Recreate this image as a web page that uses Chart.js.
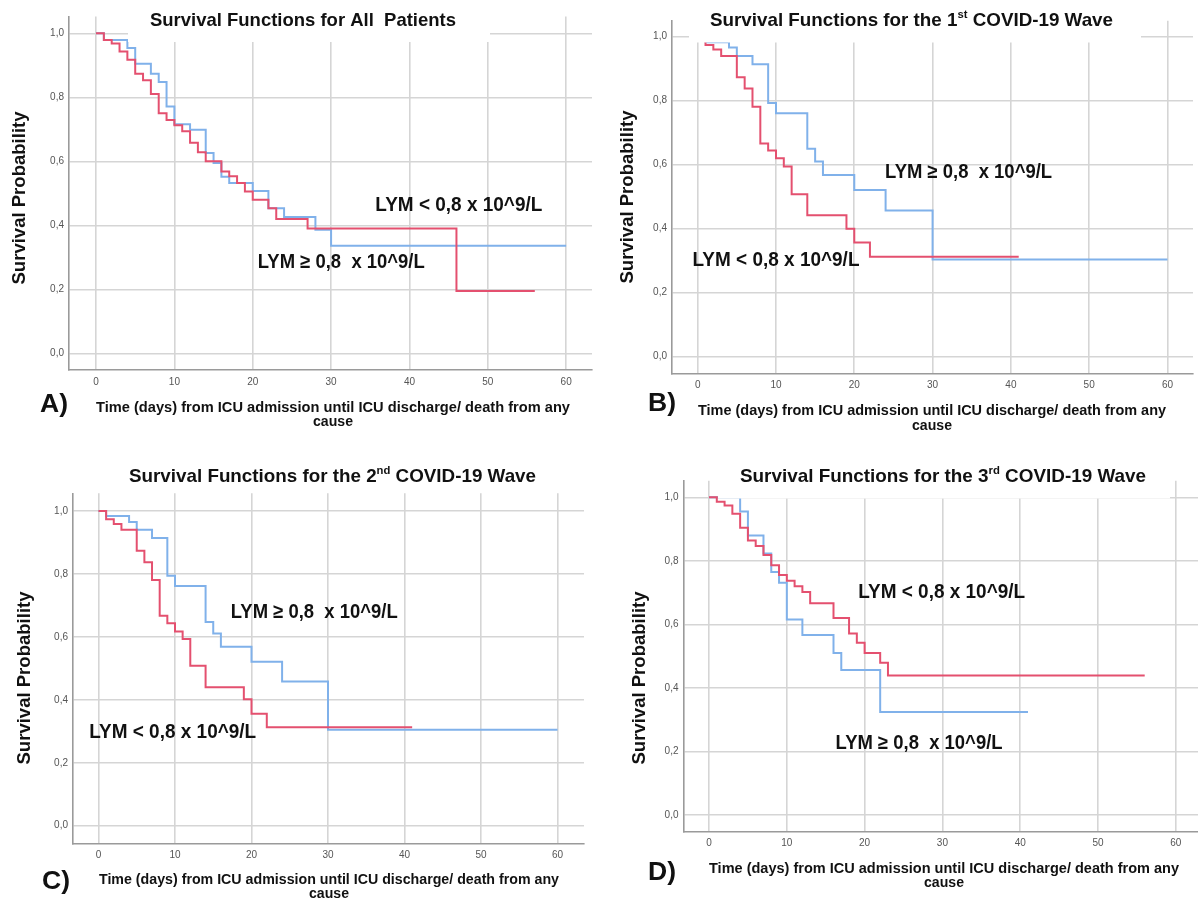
<!DOCTYPE html>
<html>
<head>
<meta charset="utf-8">
<title>Kaplan-Meier survival by lymphocyte count</title>
<script src="https://cdn.jsdelivr.net/npm/chart.js@4"></script>
<style>
  html, body { margin: 0; padding: 0; background: #fff; }
  #figure { position: relative; width: 1198px; height: 899px; overflow: hidden; background: #fff; }
  #figure canvas { position: absolute; }
</style>
</head>
<body>
<div id="figure">
  <canvas id="panelA" width="599" height="449" style="left:0;top:0"></canvas>
  <canvas id="panelB" width="598" height="449" style="left:600px;top:0"></canvas>
  <canvas id="panelC" width="599" height="449" style="left:0;top:450px"></canvas>
  <canvas id="panelD" width="598" height="449" style="left:600px;top:450px"></canvas>
</div>
<script>
// Kaplan-Meier estimates: event times (days) and survival probability after each step.
// "low" = LYM < 0,8 x 10^9/L, "high" = LYM >= 0,8 x 10^9/L

// All patients
const allLowTimes  = [0, 1, 2, 3, 4, 5, 6, 7, 8, 9, 10, 11, 12, 13, 14, 16, 17, 18, 19, 20, 22, 23, 27, 46, 56];
const allLowSurv   = [1, 0.979, 0.968, 0.943, 0.917, 0.874, 0.853, 0.81, 0.75, 0.729, 0.713, 0.694, 0.658, 0.628, 0.6, 0.568, 0.553, 0.532, 0.506, 0.48, 0.453, 0.42, 0.39, 0.195, 0.195];
const allHighTimes = [0, 1, 4, 5, 7, 8, 9, 10, 12, 14, 15, 16, 17, 20, 22, 24, 28, 30, 60];
const allHighSurv  = [1, 0.979, 0.954, 0.905, 0.874, 0.848, 0.771, 0.716, 0.699, 0.626, 0.595, 0.552, 0.532, 0.507, 0.453, 0.426, 0.386, 0.336, 0.336];

// 1st wave
const wave1LowTimes  = [0, 1, 2, 3, 5, 6, 7, 8, 9, 10, 11, 12, 14, 19, 20, 22, 41];
const wave1LowSurv   = [1, 0.974, 0.96, 0.94, 0.873, 0.838, 0.781, 0.666, 0.644, 0.62, 0.594, 0.508, 0.442, 0.4, 0.357, 0.312, 0.312];
const wave1HighTimes = [0, 1, 4, 5, 7, 9, 10, 14, 15, 16, 20, 24, 30, 60];
const wave1HighSurv  = [1, 0.983, 0.966, 0.94, 0.914, 0.793, 0.761, 0.65, 0.61, 0.568, 0.521, 0.457, 0.304, 0.304];

// 2nd wave
const wave2LowTimes  = [0, 1, 2, 3, 5, 6, 7, 8, 9, 10, 11, 12, 14, 19, 20, 22, 41];
const wave2LowSurv   = [1, 0.974, 0.959, 0.94, 0.874, 0.837, 0.781, 0.667, 0.643, 0.617, 0.593, 0.508, 0.44, 0.402, 0.356, 0.313, 0.313];
const wave2HighTimes = [0, 1, 4, 5, 7, 9, 10, 14, 15, 16, 20, 24, 30, 60];
const wave2HighSurv  = [1, 0.984, 0.965, 0.94, 0.914, 0.794, 0.762, 0.647, 0.611, 0.569, 0.521, 0.458, 0.305, 0.305];

// 3rd wave
const wave3LowTimes  = [0, 1, 2, 3, 4, 5, 6, 7, 8, 9, 10, 11, 12, 13, 16, 18, 19, 20, 22, 23, 56];
const wave3LowSurv   = [1, 0.986, 0.974, 0.948, 0.904, 0.864, 0.847, 0.818, 0.786, 0.755, 0.737, 0.72, 0.702, 0.666, 0.62, 0.571, 0.542, 0.51, 0.479, 0.439, 0.439];
const wave3HighTimes = [0, 4, 5, 7, 8, 9, 10, 12, 16, 17, 22, 41];
const wave3HighSurv  = [1, 0.955, 0.88, 0.823, 0.765, 0.731, 0.615, 0.566, 0.51, 0.456, 0.324, 0.324];

// Axis ticks
const timeTicks = [0, 10, 20, 30, 40, 50, 60];
const survTicks = [0, 0.2, 0.4, 0.6, 0.8, 1.0];

// Text
const labelLow  = 'LYM < 0,8 x 10^9/L';
const labelHigh = 'LYM \u2265 0,8  x 10^9/L';
const xTitleLines = ['Time (days) from ICU admission until ICU discharge/ death from any', 'cause'];
const yTitle = 'Survival Probability';

const RED = '#e4506f';
const BLUE = '#80b1ea';
const FONT = '"Liberation Sans", Arial, Helvetica, sans-serif';

function toPoints(times, surv) {
  return times.map((t, i) => ({ x: t, y: surv[i] }));
}

// Draws a run of text parts (some as superscripts), centred on (cx, cy),
// optionally squeezed horizontally to a given width and rotated.
function drawText(ctx, parts, cx, cy, px, width, angle) {
  const widths = [];
  let total = 0;
  parts.forEach(p => {
    ctx.font = 'bold ' + (p.sup ? px * 0.6 : px) + 'px ' + FONT;
    const w = ctx.measureText(p.text).width;
    widths.push(w);
    total += w;
  });
  const sx = width ? width / total : 1;
  ctx.save();
  ctx.translate(cx, cy);
  if (angle) ctx.rotate(angle);
  ctx.scale(sx, 1);
  ctx.fillStyle = '#111';
  ctx.textAlign = 'left';
  ctx.textBaseline = 'middle';
  let x = -total / 2;
  parts.forEach((p, i) => {
    ctx.font = 'bold ' + (p.sup ? px * 0.6 : px) + 'px ' + FONT;
    ctx.fillText(p.text, x, p.sup ? -px * 0.33 : 0);
    x += widths[i];
  });
  ctx.restore();
}

// Title (with its opaque backdrop), panel letter, axis titles and curve labels.
const panelText = {
  id: 'panelText',
  afterDraw(chart) {
    const o = chart.options.plugins.panelText;
    const ctx = chart.ctx;
    const xs = chart.scales.x, ys = chart.scales.y;
    ctx.save();
    if (o.backdrop) {
      ctx.fillStyle = '#fff';
      ctx.fillRect(o.backdrop[0], o.backdrop[1], o.backdrop[2], o.backdrop[3]);
    }
    drawText(ctx, o.title, o.titlePos[0], o.titlePos[1], 18.5, o.titlePos[2]);
    drawText(ctx, [{ text: o.letter }], o.letterPos[0], o.letterPos[1], 26, 28);
    drawText(ctx, [{ text: xTitleLines[0] }], o.xTitlePos[0], o.xTitlePos[1], 15, o.xTitlePos[3]);
    drawText(ctx, [{ text: xTitleLines[1] }], o.xTitlePos[0], o.xTitlePos[2], 15, 40);
    drawText(ctx, [{ text: yTitle }], o.yTitlePos[0], o.yTitlePos[1], 18, 173, -Math.PI / 2);
    o.labels.forEach(l => {
      drawText(ctx, [{ text: l.text }], xs.getPixelForValue(l.t), ys.getPixelForValue(l.s), 20, 167);
    });
    ctx.restore();
  }
};

function makePanel(id, p) {
  const canvas = document.getElementById(id);
  const W = canvas.width, H = canvas.height;
  const gridColor = '#d5d5d5';
  const axisColor = '#9a9a9a';
  const tickFont = { family: FONT, size: 10 };
  return new Chart(canvas, {
    type: 'line',
    data: {
      datasets: [
        { label: labelLow, data: toPoints(p.lowT, p.lowS), borderColor: RED, stepped: 'before' },
        { label: labelHigh, data: toPoints(p.highT, p.highS), borderColor: BLUE, stepped: 'before' }
      ]
    },
    options: {
      responsive: false,
      animation: false,
      events: [],
      layout: { padding: { left: 0, top: p.area.top, right: W - p.area.right, bottom: 0 } },
      elements: { point: { radius: 0 }, line: { borderWidth: 2, tension: 0, fill: false } },
      plugins: {
        legend: { display: false },
        tooltip: { enabled: false },
        title: { display: false },
        panelText: p.text
      },
      scales: {
        x: {
          type: 'linear',
          min: p.xRange[0], max: p.xRange[1],
          afterFit: s => { s.height = H - p.area.bottom; },
          afterBuildTicks: s => { s.ticks = timeTicks.map(v => ({ value: v })); },
          ticks: { padding: 6, color: '#555', font: tickFont, maxRotation: 0, autoSkip: false },
          grid: { color: gridColor, lineWidth: 1.6, drawTicks: false },
          border: { color: axisColor, width: 1.6 }
        },
        y: {
          type: 'linear',
          min: p.yRange[0], max: p.yRange[1],
          afterFit: s => { s.width = p.area.left; },
          afterBuildTicks: s => { s.ticks = survTicks.map(v => ({ value: v })); },
          ticks: {
            padding: 5, color: '#555', font: tickFont, autoSkip: false,
            callback: v => v.toFixed(1).replace('.', ',')
          },
          grid: { color: gridColor, lineWidth: 1.6, drawTicks: false },
          border: { color: axisColor, width: 1.6 }
        }
      }
    },
    plugins: [panelText]
  });
}

makePanel('panelA', {
  lowT: allLowTimes, lowS: allLowSurv, highT: allHighTimes, highS: allHighSurv,
  area: { left: 69, right: 592, top: 16.5, bottom: 370 },
  xRange: [-3.45, 63.3], yRange: [-0.052, 1.0525],
  text: {
    backdrop: [128, 0, 362, 42],
    title: [{ text: 'Survival Functions for All  Patients' }],
    titlePos: [303, 21, 306],
    letter: 'A)', letterPos: [54, 405],
    xTitlePos: [333, 408, 422, 474],
    yTitlePos: [20, 198],
    labels: [
      { text: labelLow, t: 46.3, s: 0.463 },
      { text: labelHigh, t: 31.3, s: 0.285 }
    ]
  }
});

makePanel('panelB', {
  lowT: wave1LowTimes, lowS: wave1LowSurv, highT: wave1HighTimes, highS: wave1HighSurv,
  area: { left: 72, right: 593, top: 20.7, bottom: 373.3 },
  xRange: [-3.28, 63.26], yRange: [-0.0519, 1.05],
  text: {
    backdrop: [89, 0, 452, 42.5],
    title: [{ text: 'Survival Functions for the 1' }, { text: 'st', sup: true }, { text: ' COVID-19 Wave' }],
    titlePos: [311.5, 21, 403],
    letter: 'B)', letterPos: [62, 404],
    xTitlePos: [332, 411, 426, 468],
    yTitlePos: [28, 197],
    labels: [
      { text: labelHigh, t: 34.6, s: 0.577 },
      { text: labelLow, t: 10.0, s: 0.302 }
    ]
  }
});

makePanel('panelC', {
  lowT: wave2LowTimes, lowS: wave2LowSurv, highT: wave2HighTimes, highS: wave2HighSurv,
  area: { left: 73, right: 584, top: 43.3, bottom: 393.3 },
  xRange: [-3.33, 63.46], yRange: [-0.0559, 1.0562],
  text: {
    backdrop: null,
    title: [{ text: 'Survival Functions for the 2' }, { text: 'nd', sup: true }, { text: ' COVID-19 Wave' }],
    titlePos: [332.5, 27, 407],
    letter: 'C)', letterPos: [56, 432],
    xTitlePos: [329, 430, 444, 460],
    yTitlePos: [25, 228],
    labels: [
      { text: labelHigh, t: 28.2, s: 0.676 },
      { text: labelLow, t: 9.7, s: 0.295 }
    ]
  }
});

makePanel('panelD', {
  lowT: wave3LowTimes, lowS: wave3LowSurv, highT: wave3HighTimes, highS: wave3HighSurv,
  area: { left: 83.5, right: 598, top: 30.7, bottom: 381.7 },
  xRange: [-3.28, 62.85], yRange: [-0.0532, 1.0523],
  text: {
    backdrop: [118, 0, 452, 48.5],
    title: [{ text: 'Survival Functions for the 3' }, { text: 'rd', sup: true }, { text: ' COVID-19 Wave' }],
    titlePos: [343, 27, 406],
    letter: 'D)', letterPos: [62, 423],
    xTitlePos: [344, 419, 433, 470],
    yTitlePos: [40, 228],
    labels: [
      { text: labelLow, t: 29.9, s: 0.699 },
      { text: labelHigh, t: 27.0, s: 0.226 }
    ]
  }
});
</script>
</body>
</html>
